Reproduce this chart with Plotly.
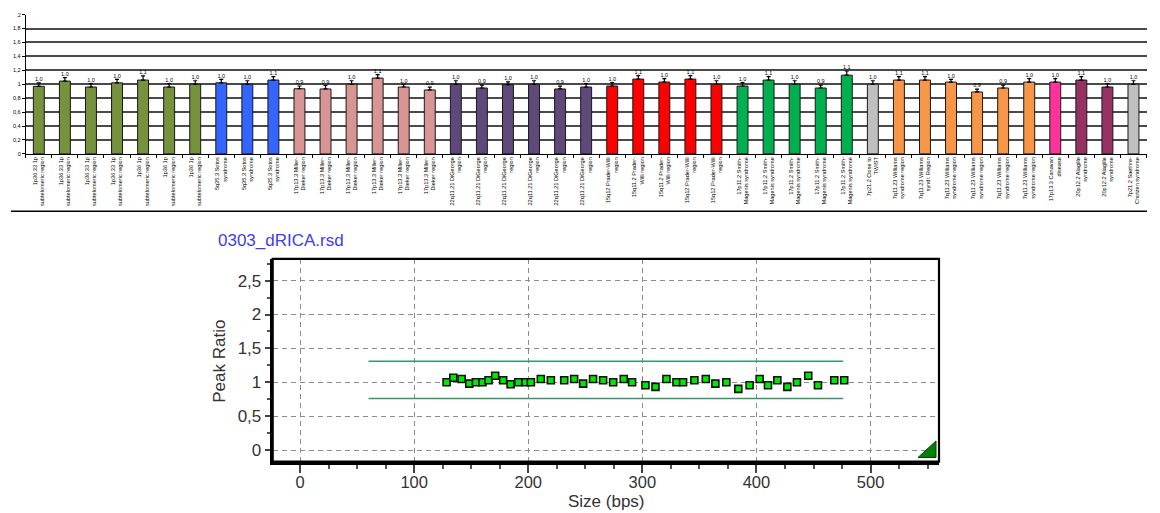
import plotly.graph_objects as go

# ---------------- top bar chart data ----------------
bar_labels = (
    ["1p36.33 1p<br>subtelomeric region"] * 4
    + ["1p36 1p<br>subtelomeric region"] * 3
    + ["5q35.3 Sotos<br>syndrome"] * 3
    + ["17p13.3 Miller-<br>Dieker region"] * 6
    + ["22q11.21 DiGeorge<br>region"] * 6
    + ["15q12 Prader-Willi<br>region", "15q11.2 Prader-<br>Willi region",
       "15q11.2 Prader-<br>Willi region", "15q12 Prader-Willi<br>region",
       "15q12 Prader-Willi<br>region"]
    + ["17p11.2 Smith-<br>Magenis syndrome"] * 5
    + ["7p21.2 Close to<br>TWIST"]
    + ["7q11.23 Williams<br>syndrome region", "7q11.23 Williams<br>syndr. Region"]
    + ["7q11.23 Williams<br>syndrome region"] * 4
    + ["17p13.3 Canavan<br>disease"]
    + ["20p12.2 Alagille<br>syndrome"] * 2
    + ["7p21.2 Saethre-<br>Chotzen syndrome"]
)
bar_values = [0.97, 1.045, 0.96, 1.02, 1.06, 0.96, 1.00,
              1.02, 1.00, 1.06,
              0.935, 0.932, 1.00, 1.088, 0.96, 0.918,
              1.00, 0.946, 0.995, 1.00, 0.932, 0.96,
              0.974, 1.074, 1.031, 1.074, 1.00,
              0.974, 1.06, 1.00, 0.946, 1.13,
              1.00,
              1.06, 1.06, 1.031, 0.889, 0.946, 1.031,
              1.031,
              1.06, 0.96,
              1.00]
bar_errors = [0.05, 0.05, 0.05, 0.05, 0.06, 0.05, 0.05,
              0.05, 0.05, 0.05,
              0.04, 0.05, 0.05, 0.05, 0.04, 0.04,
              0.05, 0.04, 0.04, 0.05, 0.04, 0.05,
              0.05, 0.05, 0.05, 0.05, 0.05,
              0.05, 0.05, 0.05, 0.04, 0.06,
              0.05,
              0.05, 0.05, 0.04, 0.04, 0.04, 0.05,
              0.05,
              0.05, 0.05,
              0.05]
group_colors = {
    "1p": "#76923C", "5q": "#3366FF", "17p13": "#D99594", "22q": "#5F497A",
    "15q": "#FF0000", "17p11": "#00B050", "7p": "#BFBFBF", "7q": "#F79646",
    "can": "#FF3399", "20p": "#953163",
}
bar_groups = (["1p"] * 7 + ["5q"] * 3 + ["17p13"] * 6 + ["22q"] * 6 + ["15q"] * 5
              + ["17p11"] * 5 + ["7p"] + ["7q"] * 6 + ["can"] + ["20p"] * 2 + ["7p"])
top_yticks = [0, 0.2, 0.4, 0.6, 0.8, 1, 1.2, 1.4, 1.6, 1.8, 2]

# ---------------- bottom scatter data ----------------
sizes_bps = [128.4, 134.3, 141.6, 148.3, 154.1, 159.9, 165.2, 171.0, 178.0, 184.5,
             191.2, 197.6, 202.3, 211.0, 219.8, 231.5, 240.2, 248.1, 256.8, 265.6,
             274.4, 283.7, 291.0, 302.7, 311.5, 321.1, 329.9, 335.7, 345.6, 355.6,
             364.0, 373.6, 384.1, 394.0, 402.8, 410.1, 418.3, 427.1, 435.5, 445.4,
             453.9, 468.2, 476.9]
peak_ratio = [1.00, 1.068, 1.049, 0.981, 1.00, 1.00, 1.03, 1.097, 1.03, 0.971,
              1.00, 1.00, 1.00, 1.049, 1.03, 1.03, 1.049, 0.981, 1.049, 1.03,
              1.00, 1.049, 1.00, 0.956, 0.932, 1.049, 1.00, 1.00, 1.03, 1.049,
              0.98, 1.00, 0.903, 0.956, 1.049, 0.956, 1.03, 0.932, 1.00, 1.097,
              0.956, 1.03, 1.03]
limit_x = [60, 476]
upper_limit = 1.31
lower_limit = 0.76
bottom_xticks = [0, 100, 200, 300, 400, 500]
bottom_yticks = [0, 0.5, 1, 1.5, 2, 2.5]


def comma(v, nd=None):
    s = f"{v:.{nd}f}" if nd is not None else f"{v:g}"
    return s.replace(".", ",")


W, H = 1160, 513
idx = list(range(len(bar_values)))
colors = [group_colors[g] for g in bar_groups]

fig = go.Figure()

fig.add_trace(go.Bar(
    x=idx, y=bar_values, width=0.42,
    marker=dict(color=colors, line=dict(color="#1a1a1a", width=1)),
    error_y=dict(type="data", array=bar_errors, arrayminus=[0] * len(bar_errors),
                 symmetric=False, color="black", thickness=1.2, width=2),
    xaxis="x", yaxis="y", showlegend=False, hoverinfo="skip",
))
fig.add_trace(go.Scatter(
    x=idx, y=[v + e + 0.005 for v, e in zip(bar_values, bar_errors)],
    text=[comma(round(v, 1), 1) for v in bar_values],
    mode="text", textposition="top center",
    textfont=dict(family="Liberation Sans", size=5.5, color="black"),
    xaxis="x", yaxis="y", showlegend=False, hoverinfo="skip",
))

# bottom chart
fig.add_trace(go.Scatter(
    x=limit_x, y=[upper_limit, upper_limit], mode="lines",
    line=dict(color="#33996B", width=1.6), xaxis="x2", yaxis="y2",
    showlegend=False, hoverinfo="skip",
))
fig.add_trace(go.Scatter(
    x=limit_x, y=[lower_limit, lower_limit], mode="lines",
    line=dict(color="#33996B", width=1.6), xaxis="x2", yaxis="y2",
    showlegend=False, hoverinfo="skip",
))
fig.add_trace(go.Scatter(
    x=sizes_bps, y=peak_ratio, mode="markers",
    marker=dict(symbol="square", size=7, color="#00E800",
                line=dict(color="#111", width=1.6)),
    xaxis="x2", yaxis="y2", showlegend=False,
))

top_dom_x = [25.8 / W, 1146.5 / W]
top_dom_y = [1 - 152.7 / H, 1 - 11.7 / H]
bot_dom_x = [272.7 / W, 939 / W]
bot_dom_y = [1 - 464 / H, 1 - 259 / H]

tickfont_b = dict(family="Liberation Sans", size=17, color="#333333")
tickfont_x = dict(family="Liberation Sans", size=16.5, color="#333333")

fig.update_layout(
    width=W, height=H, margin=dict(l=0, r=0, t=0, b=0),
    paper_bgcolor="white", plot_bgcolor="white",
    xaxis=dict(domain=top_dom_x, range=[-0.5, len(bar_values) - 0.5],
               tickmode="array", tickvals=idx, ticktext=bar_labels,
               tickangle=-90, ticks="", showgrid=False, zeroline=False,
               showline=True, linecolor="black", linewidth=1,
               tickfont=dict(family="Liberation Sans", size=5.6, color="black"),
               minor=dict(tick0=-0.5, dtick=1, ticks="outside", ticklen=3,
                          tickcolor="black", showgrid=False),
               fixedrange=True),
    yaxis=dict(domain=top_dom_y, range=[0, 2], tickmode="array",
               tickvals=top_yticks, ticktext=[comma(v) for v in top_yticks],
               showgrid=True, gridcolor="#4a4a4a", gridwidth=1.5, zeroline=False,
               showline=True, linecolor="black", linewidth=1,
               ticks="outside", ticklen=3, tickcolor="black",
               tickfont=dict(family="Liberation Sans", size=5.5, color="black")),
    xaxis2=dict(domain=bot_dom_x, range=[-24, 560], anchor="y2",
                tickmode="array", tickvals=bottom_xticks,
                showgrid=True, gridcolor="#8c8c8c", gridwidth=1.4, griddash="5px,4px",
                zeroline=False, showline=True, linecolor="black", linewidth=3,
                ticks="outside", ticklen=8, tickcolor="#444", tickwidth=1.5,
                ticklabelstandoff=-4,
                minor=dict(dtick=25, tick0=0, ticks="outside", ticklen=4,
                           tickcolor="#555", showgrid=False),
                tickfont=tickfont_x),
    yaxis2=dict(domain=bot_dom_y, range=[-0.17, 2.82], anchor="x2",
                tickmode="array", tickvals=bottom_yticks,
                ticktext=[comma(v) for v in bottom_yticks],
                showgrid=True, gridcolor="#8c8c8c", gridwidth=1.4, griddash="5px,4px",
                zeroline=False, showline=True, linecolor="black", linewidth=3,
                ticks="outside", ticklen=5, tickcolor="#444", tickwidth=1.5,
                minor=dict(dtick=0.25, tick0=0, ticks="outside", ticklen=3,
                           tickcolor="#555", showgrid=False),
                tickfont=tickfont_b),
    shapes=[
        dict(type="line", xref="paper", yref="paper", x0=11 / W, x1=1147 / W,
             y0=1 - 210.7 / H, y1=1 - 210.7 / H, line=dict(color="black", width=1.5)),
        dict(type="rect", xref="x2 domain", yref="y2 domain", x0=0, x1=1, y0=0, y1=1,
             line=dict(color="black", width=2.2)),
        dict(type="path", xref="x2 domain", yref="y2 domain",
             path="M 0.9685 0.02 L 0.9955 0.02 L 0.9955 0.102 Z",
             fillcolor="#008000", line=dict(color="#0a3d0a", width=1)),
    ],
    annotations=[
        dict(text="0303_dRICA.rsd", xref="paper", yref="paper",
             x=216 / W, y=1 - 240 / H, xanchor="left", yanchor="middle",
             showarrow=False, font=dict(family="Liberation Sans", size=17, color="#3c3cf0")),
        dict(text="Size (bps)", xref="paper", yref="paper",
             x=606 / W, y=1 - 504 / H, xanchor="center", yanchor="middle",
             borderpad=0,
             showarrow=False, font=tickfont_b),
        dict(text="Peak Ratio", xref="paper", yref="paper",
             x=220 / W, y=1 - 363 / H, xanchor="center", yanchor="middle",
             textangle=-90, showarrow=False, font=tickfont_b),
    ],
)

fig.write_html("out.html")
